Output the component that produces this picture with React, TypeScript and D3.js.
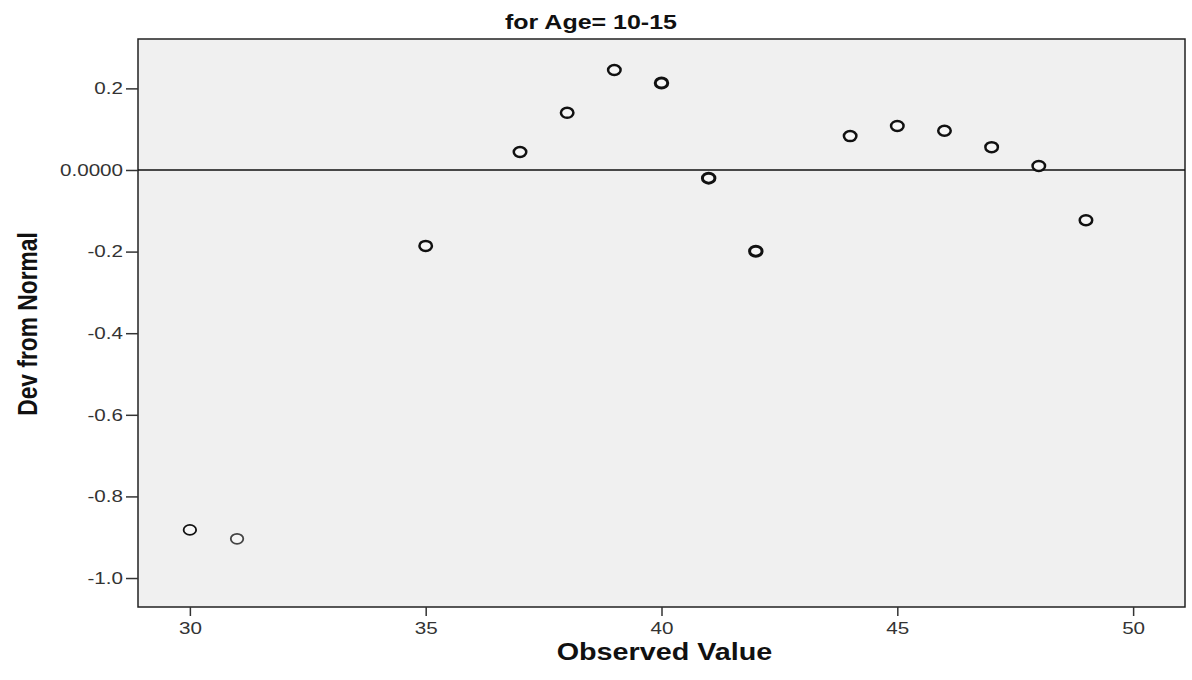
import React, { useEffect, useRef } from 'react';
import * as d3 from 'd3';

const observed = [30, 31, 35, 37, 38, 39, 40, 41, 42, 44, 45, 46, 47, 48, 49];
const deviation = [-0.882, -0.904, -0.186, 0.044, 0.140, 0.245, 0.213, -0.020, -0.199, 0.083, 0.108, 0.096, 0.056, 0.010, -0.123];
const xTicks = [30, 35, 40, 45, 50];
const yTicks = [-1.0, -0.8, -0.6, -0.4, -0.2, 0.0, 0.2];

const width = 1192;
const height = 680;
// the source picture is stretched sideways, so text and markers are too
const stretch = 1.25;
const font = 'Arial, "Liberation Sans", sans-serif';

export default function App() {
  const svgRef = useRef<SVGSVGElement>(null);

  useEffect(() => {
    if (!svgRef.current) return;
    const svg = d3.select(svgRef.current);
    svg.selectAll('*').remove();

    const margin = { top: 39, right: 7, bottom: 73, left: 138 };
    const innerWidth = width - margin.left - margin.right;
    const innerHeight = height - margin.top - margin.bottom;

    const x = d3.scaleLinear().domain([28.9, 51.1]).range([0, innerWidth]);
    const y = d3.scaleLinear().domain([-1.071, 0.321]).range([innerHeight, 0]);

    const g = svg.append('g').attr('transform', `translate(${margin.left},${margin.top})`);

    // plot background
    g.append('rect')
      .attr('width', innerWidth)
      .attr('height', innerHeight)
      .attr('fill', '#f0f0f0')
      .attr('stroke', '#222')
      .attr('stroke-width', 1.5);

    // reference line at zero
    g.append('line')
      .attr('x1', 0)
      .attr('x2', innerWidth)
      .attr('y1', y(0))
      .attr('y2', y(0))
      .attr('stroke', '#111')
      .attr('stroke-width', 1.5);

    // x axis
    const xAxis = g.append('g')
      .attr('transform', `translate(0,${innerHeight})`)
      .call(d3.axisBottom(x).tickValues(xTicks).tickSize(9).tickSizeOuter(0));
    xAxis.select('.domain').remove();
    xAxis.selectAll('line').attr('stroke', '#333').attr('stroke-width', 1.5);
    xAxis.selectAll('text')
      .attr('fill', '#333')
      .attr('y', 27)
      .attr('dy', 0)
      .attr('transform', `scale(${stretch},1)`)
      .style('font-family', font)
      .style('font-size', '16.5px');

    // y axis
    const yAxis = g.append('g')
      .call(d3.axisLeft(y).tickValues(yTicks).tickSize(12).tickSizeOuter(0)
        .tickFormat(d => (d === 0 ? '0.0000' : (d as number).toFixed(1))));
    yAxis.select('.domain').remove();
    yAxis.selectAll('line').attr('stroke', '#333').attr('stroke-width', 1.5);
    yAxis.selectAll('text')
      .attr('fill', '#333')
      .attr('x', -15 / stretch)
      .attr('transform', `scale(${stretch},1)`)
      .style('font-family', font)
      .style('font-size', '16.5px');

    // points
    g.selectAll('ellipse.pt')
      .data(observed)
      .enter().append('ellipse')
      .attr('class', 'pt')
      .attr('cx', d => x(d))
      .attr('cy', (d, i) => y(deviation[i]))
      .attr('rx', 5 * stretch)
      .attr('ry', 5)
      .attr('fill', '#f6f6f6')
      .attr('stroke', (d, i) => (i === 1 ? '#444' : '#111'))
      .attr('stroke-width', (d, i) => (i < 2 ? 1.8 : (i >= 6 && i <= 8 ? 3 : 2.5)));

    // title
    svg.append('text')
      .attr('transform', `translate(591,29) scale(${stretch},1)`)
      .attr('text-anchor', 'middle')
      .attr('fill', '#111')
      .style('font-family', font)
      .style('font-weight', 'bold')
      .style('font-size', '20px')
      .text('for Age= 10-15');

    // x label
    svg.append('text')
      .attr('transform', `translate(${margin.left + innerWidth / 2 + 3},660) scale(${stretch},1)`)
      .attr('text-anchor', 'middle')
      .attr('fill', '#111')
      .style('font-family', font)
      .style('font-weight', 'bold')
      .style('font-size', '23px')
      .text('Observed Value');

    // y label
    svg.append('text')
      .attr('transform', `translate(37,${margin.top + innerHeight / 2 + 1}) rotate(-90) scale(1,${stretch})`)
      .attr('text-anchor', 'middle')
      .attr('fill', '#111')
      .style('font-family', font)
      .style('font-weight', 'bold')
      .style('font-size', '22.8px')
      .text('Dev from Normal');
  }, []);

  return (
    <svg
      ref={svgRef}
      width={width}
      height={height}
      style={{ position: 'absolute', left: 0, top: 0, background: '#fff' }}
    />
  );
}
